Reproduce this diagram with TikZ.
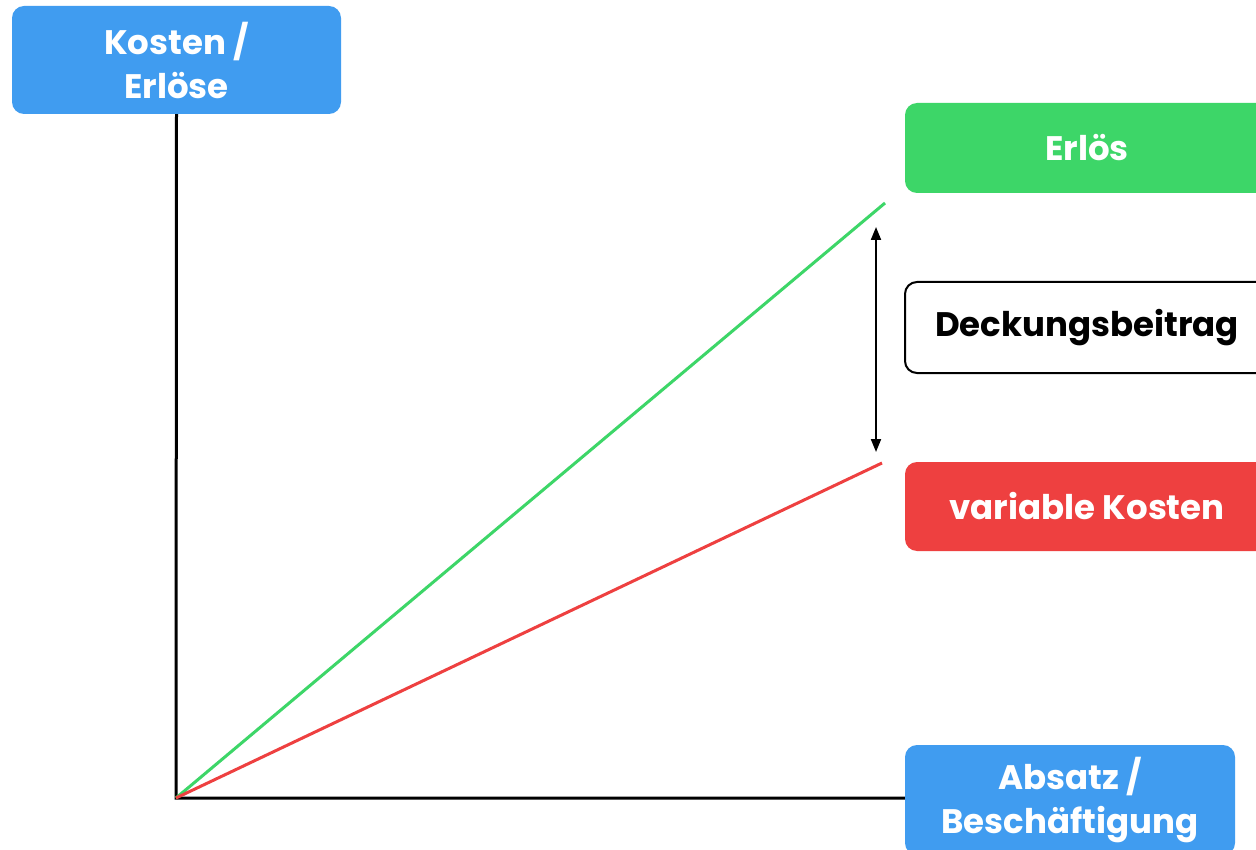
\documentclass[tikz,border=0pt]{standalone}
\usepackage{fontspec}
\setmainfont{Poppins}
\usetikzlibrary{arrows.meta}
\definecolor{axblue}{RGB}{64,156,240}
\definecolor{erlgreen}{RGB}{61,214,104}
\definecolor{kostred}{RGB}{238,64,64}
\begin{document}
\begin{tikzpicture}[x=1pt,y=-1pt,
  box/.style={rounded corners=12pt, inner sep=0pt, align=center, text=white,
    font=\fontsize{34}{44}\selectfont\bfseries},
  axis/.style={line width=3pt, line join=miter},
  curve/.style={line width=3pt},
  dbarrow/.style={line width=2pt, {Triangle[length=13pt,width=10pt]}-{Triangle[length=13pt,width=10pt]}}]
\clip (0,0) rectangle (1256,850);
\fill[white] (0,0) rectangle (1256,850);
\node[box, fill=axblue, minimum width=329pt, minimum height=108pt] (kosten) at (176.5,60) {Kosten /\\Erlöse};
\node[box, fill=erlgreen, minimum width=364pt, minimum height=90pt] (erloes) at (1087,148) {Erlös};
\node[box, fill=white, draw=black, line width=2pt, text=black, minimum width=364pt, minimum height=91pt] (db) at (1087,327.5) {Deckungsbeitrag};
\node[box, fill=kostred, minimum width=364pt, minimum height=89pt] (varko) at (1087,506.5) {variable Kosten};
\node[box, fill=axblue, minimum width=330pt, minimum height=110pt] (absatz) at (1070,800) {Absatz /\\Beschäftigung};
\coordinate (O) at (176,798);
\coordinate (gE) at (885,203);
\coordinate (rE) at (882,463);
\coordinate (aT) at (876,227);
\coordinate (aB) at (876,452);
\draw[axis] (kosten.south) -- (O) -- (O -| absatz.west);
\draw[curve, erlgreen] (O) -- (gE);
\draw[curve, kostred] (O) -- (rE);
\draw[dbarrow] (aT) -- (aB);
\end{tikzpicture}
\end{document}
